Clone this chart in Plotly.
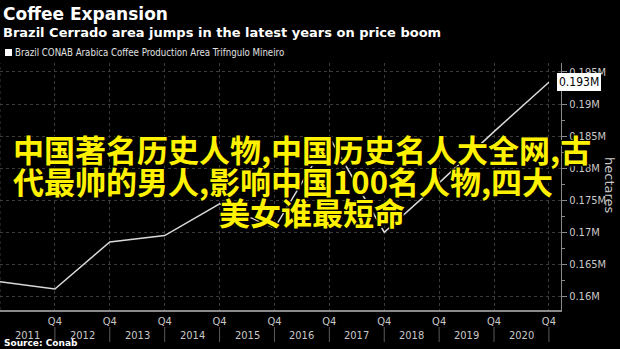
import plotly.graph_objects as go

# ---- data ----
years = [2010, 2011, 2012, 2013, 2014, 2015, 2016, 2017, 2018, 2019, 2020]
area_m = [0.16228, 0.16114, 0.16848, 0.16947, 0.17442, 0.17063, 0.1848, 0.1700, 0.1777, 0.1857, 0.1934]
q4_ticks = [2011, 2012, 2013, 2014, 2015, 2016, 2017, 2018, 2019, 2020]
q4_labels = ["Q4"] * len(q4_ticks)
year_labels = ["2011", "2012", "2013", "2014", "2015", "2016", "2017", "2018", "2019", "2020"]
y_ticks = [0.16, 0.165, 0.17, 0.175, 0.18, 0.185, 0.19, 0.195]
y_tick_labels = ["0.16M", "0.165M", "0.17M", "0.175M", "0.18M", "0.185M", "0.19M", "0.195M"]
last_label = "0.193M"

title = "Coffee Expansion"
subtitle = "Brazil Cerrado area jumps in the latest years on price boom"
legend_text = "Brazil CONAB Arabica Coffee Production Area Trifngulo Mineiro"
source = "Source: Conab"
overlay = ["中国著名历史人物,中国历史名人大全网,古",
           "代最帅的男人,影响中国100名人物,四大",
           "美女谁最短命"]

W, H = 620, 349
L, R, T, B = 0, 59, 63, 39
PW, PH = W - L - R, H - T - B


def px(x):
    return (x - L) / PW


def py(y):
    return (H - B - y) / PH


fig = go.Figure()
fig.add_trace(go.Scatter(x=years, y=area_m, mode="lines",
                         line=dict(color="#d9d9d9", width=1.5),
                         showlegend=False, hoverinfo="skip"))

grid = "#3c3c3c"
tickfont = dict(family="Liberation Sans Narrow, DejaVu Sans Condensed, sans-serif", size=11, color="#c8c8c8")

fig.update_layout(
    width=W, height=H,
    margin=dict(l=L, r=R, t=T, b=B),
    paper_bgcolor="#000000", plot_bgcolor="#000000",
    showlegend=False,
    xaxis=dict(range=[2010, 2020.22], tickmode="array", tickvals=q4_ticks, ticktext=q4_labels,
               showgrid=True, gridcolor=grid, griddash="dot", gridwidth=1,
               showline=True, linecolor="#8a8a8a", linewidth=1.5, ticks="",
               tickfont=tickfont, zeroline=False, fixedrange=True),
    yaxis=dict(side="right", range=[0.15786, 0.1964], tickmode="array", tickvals=y_ticks,
               ticktext=y_tick_labels,
               showgrid=True, gridcolor=grid, griddash="dot", gridwidth=1,
               showline=True, linecolor="#8a8a8a", linewidth=1,
               ticks="outside", ticklen=5, tickcolor="#8a8a8a",
               minor=dict(dtick=0.0025, tick0=0.16, ticks="outside", ticklen=3, tickcolor="#8a8a8a", showgrid=False),
               tickfont=tickfont, zeroline=False, fixedrange=True),
)

# vertical gridline at left edge
fig.add_shape(type="line", xref="x", yref="paper", x0=years[0], x1=years[0], y0=0, y1=1,
              line=dict(color=grid, width=1, dash="dot"))

# year divider ticks below axis
for t in q4_ticks:
    fig.add_shape(type="line", xref="x", yref="paper", x0=t, x1=t, y0=py(327), y1=py(342),
                  line=dict(color="#5a5a5a", width=1))

# year labels
for t, lab in zip(q4_ticks, year_labels):
    fig.add_annotation(x=t - 0.5, y=py(336), xref="x", yref="paper", text=lab, showarrow=False,
                       font=tickfont, xanchor="center", yanchor="middle")

# last-value label box
fig.add_annotation(x=px(557), y=area_m[-1], xref="paper", yref="y", text=last_label, showarrow=False,
                   xanchor="left", yanchor="middle", bgcolor="#ffffff", bordercolor="#ffffff",
                   borderpad=1, font=dict(family=tickfont["family"], size=12, color="#000000"))

# axis title
fig.add_annotation(x=px(610), y=py(185), xref="paper", yref="paper", text="hectares", textangle=90,
                   showarrow=False, xanchor="center", yanchor="middle",
                   font=dict(family="DejaVu Sans, sans-serif", size=13, color="#c8c8c8"))

# titles
fig.add_annotation(x=px(1), y=py(14), xref="paper", yref="paper", text="<b>" + title + "</b>",
                   showarrow=False, xanchor="left", yanchor="middle",
                   font=dict(family="DejaVu Sans, sans-serif", size=17, color="#ffffff"))
fig.add_annotation(x=px(1), y=py(32), xref="paper", yref="paper", text="<b>" + subtitle + "</b>",
                   showarrow=False, xanchor="left", yanchor="middle",
                   font=dict(family="DejaVu Sans, sans-serif", size=13, color="#ffffff"))

# legend
fig.add_shape(type="rect", xref="paper", yref="paper", x0=px(5), x1=px(12), y0=py(56), y1=py(49),
              fillcolor="#ffffff", line=dict(width=0))
fig.add_annotation(x=px(13), y=py(52.5), xref="paper", yref="paper", text=legend_text,
                   showarrow=False, xanchor="left", yanchor="middle",
                   font=dict(family="Liberation Sans Narrow, DejaVu Sans Condensed, sans-serif", size=9.6, color="#e0e0e0"))

# source
fig.add_annotation(x=px(2), y=py(343), xref="paper", yref="paper", text="<b>" + source + "</b>",
                   showarrow=False, xanchor="left", yanchor="middle",
                   font=dict(family="DejaVu Sans, sans-serif", size=9, color="#ffffff"))

# overlay yellow text
shadow = "1px 1px 0 #000, -1px -1px 0 #000, 1px -1px 0 #000, -1px 1px 0 #000, 2px 2px 1px #000"
for line_txt, xa, xpos, yc in zip(overlay, ["left", "left", "center"], [11, 11, 312], [148, 180, 211]):
    fig.add_annotation(x=px(xpos), y=py(yc), xref="paper", yref="paper", text=line_txt,
                       showarrow=False, xanchor=xa, yanchor="middle",
                       font=dict(family="Noto Sans CJK SC", size=31, color="#fff200",
                                 weight="bold", shadow=shadow))

fig.write_html("out.html")
